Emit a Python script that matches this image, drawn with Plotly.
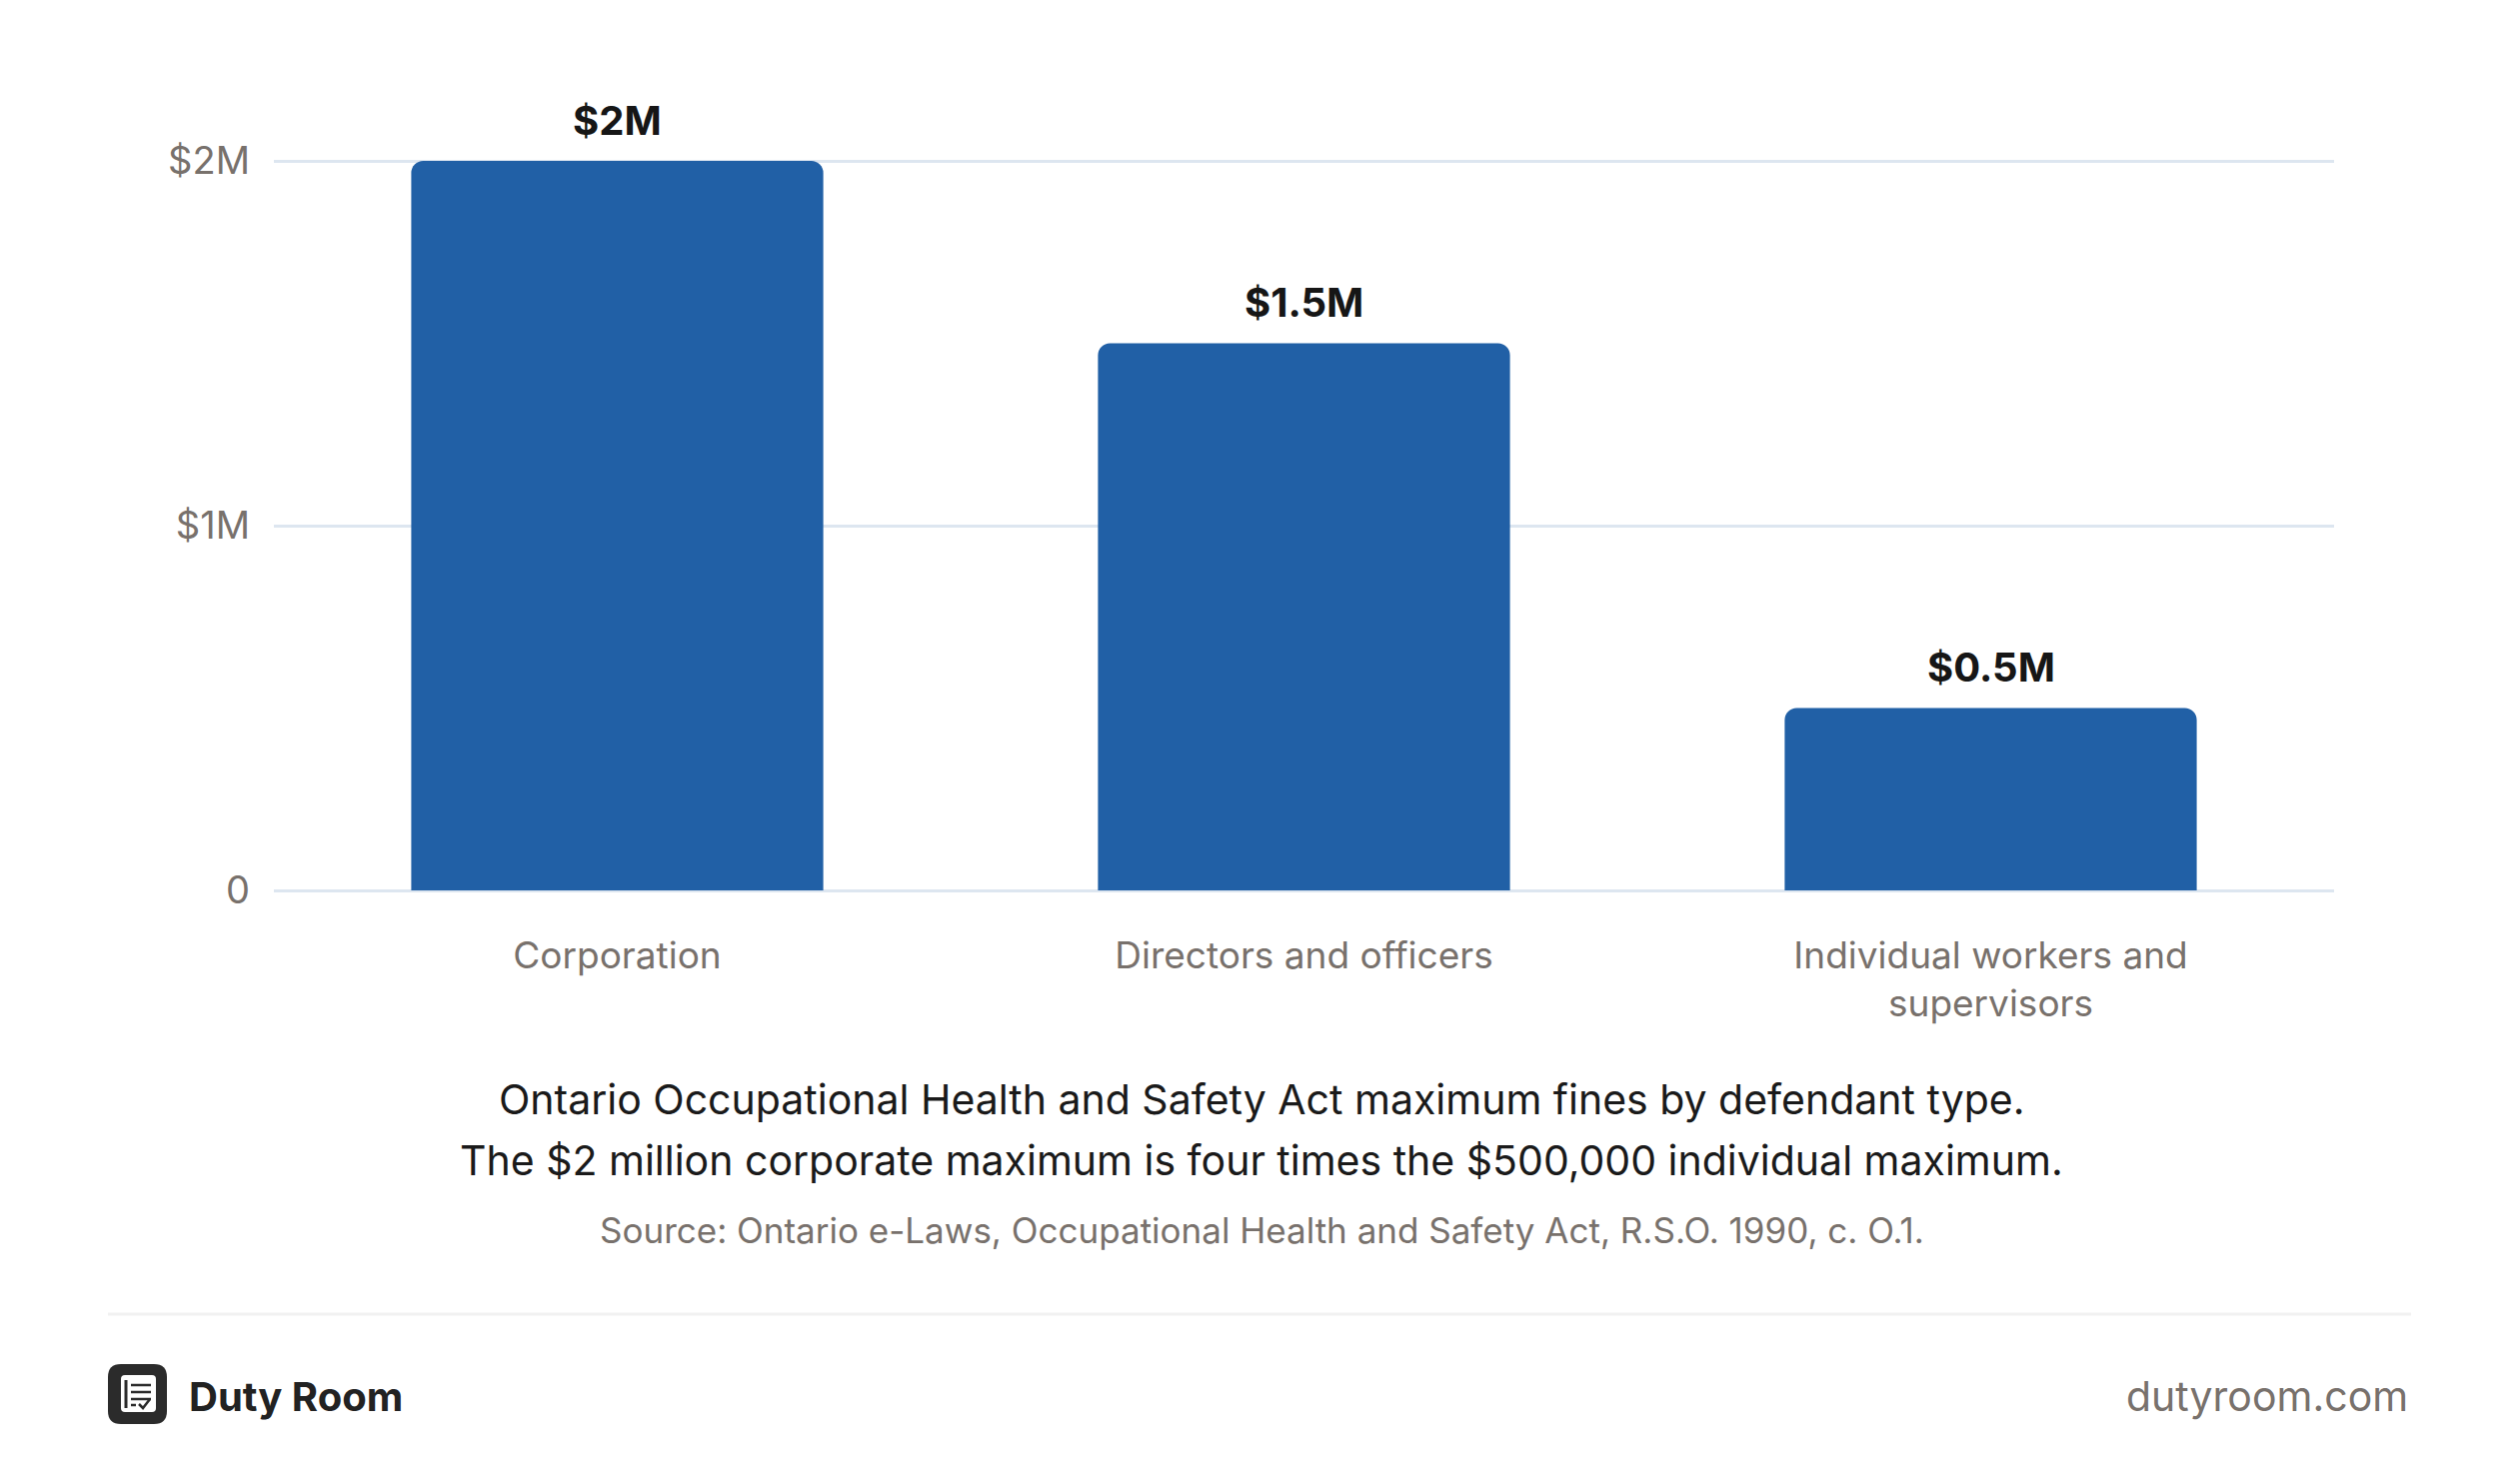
import plotly.graph_objects as go

# Chart data
categories = ["Corporation", "Directors and officers", "Individual workers and<br>supervisors"]
max_fines = [2_000_000, 1_500_000, 500_000]
bar_labels = ["$2M", "$1.5M", "$0.5M"]
y_tick_vals = [0, 1_000_000, 2_000_000]
y_tick_text = ["0", "$1M", "$2M"]

caption_lines = [
    "Ontario Occupational Health and Safety Act maximum fines by defendant type.",
    "The $2 million corporate maximum is four times the $500,000 individual maximum.",
]
source_text = "Source: Ontario e-Laws, Occupational Health and Safety Act, R.S.O. 1990, c. O.1."

# page is offset by the 8px body margin of the html file
BODY = 8
W, H = 2520 - 2 * BODY, 1485 - 2 * BODY
X0, X1 = 274, 2335   # plot area left / right (page pixels)
Y0, YT = 891, 157    # plot bottom / top (page pixels)
Y_TOP = 2_000_000 * (Y0 - YT) / (Y0 - 161)  # so $2M sits at y=161 and its gridline shows

FONT = "Inter, 'Noto Sans', sans-serif"
BAR_COLOR = "#2160A6"
GREY = "#78716c"
GRID = "#dde6f0"


def px(x):
    return (x - X0) / (X1 - X0)


def py(y):
    return (Y0 - y) / (Y0 - YT)


def rounded_rect(x0, y0, x1, y1, r):
    # pixel box -> paper path with rounded corners
    pts = [
        f"M {px(x0 + r)} {py(y0)}",
        f"L {px(x1 - r)} {py(y0)}",
        f"Q {px(x1)} {py(y0)} {px(x1)} {py(y0 + r)}",
        f"L {px(x1)} {py(y1 - r)}",
        f"Q {px(x1)} {py(y1)} {px(x1 - r)} {py(y1)}",
        f"L {px(x0 + r)} {py(y1)}",
        f"Q {px(x0)} {py(y1)} {px(x0)} {py(y1 - r)}",
        f"L {px(x0)} {py(y0 + r)}",
        f"Q {px(x0)} {py(y0)} {px(x0 + r)} {py(y0)}",
        "Z",
    ]
    return " ".join(pts)


fig = go.Figure()

fig.add_trace(
    go.Bar(
        x=categories, y=max_fines,
        marker=dict(color=BAR_COLOR, line=dict(width=0)),
        width=0.6,
        hoverinfo="skip",
    )
)

fig.update_xaxes(
    showgrid=False, showline=False, zeroline=False, ticks="",
    tickfont=dict(family=FONT, size=37, color=GREY),
    ticklabelstandoff=40,
    range=[-0.5, 2.5],
)

fig.update_yaxes(
    range=[0, Y_TOP],
    tickvals=y_tick_vals, ticktext=y_tick_text,
    tickfont=dict(family=FONT, size=38, color=GREY),
    showgrid=True, gridcolor=GRID, gridwidth=3,
    zeroline=True, zerolinecolor=GRID, zerolinewidth=3,
    showline=False, ticks="",
    ticklabelstandoff=23,
)

# value labels above the bars
ann_objs = [
    dict(
        text=f"<b>{lab}</b>", x=cat, y=val, xref="x", yref="y",
        xanchor="center", yanchor="middle", yshift=41, showarrow=False,
        font=dict(family=FONT, size=40, color="#161616"),
    )
    for cat, val, lab in zip(categories, max_fines, bar_labels)
]

captions = [
    dict(text=caption_lines[0], y=1100, size=41, color="#1a1a1a"),
    dict(text=caption_lines[1], y=1161, size=41, color="#1a1a1a"),
    dict(text=source_text, y=1231, size=35, color=GREY),
]
for c in captions:
    ann_objs.append(dict(
        text=c["text"], x=px(1262), y=py(c["y"]), xref="paper", yref="paper",
        xanchor="center", yanchor="middle", showarrow=False,
        font=dict(family=FONT, size=c["size"], color=c["color"]),
    ))

# footer text
ann_objs.append(dict(
    text="<b>Duty Room</b>", x=px(187), y=py(1397), xref="paper", yref="paper",
    xanchor="left", yanchor="middle", showarrow=False,
    font=dict(family=FONT, size=40, color="#222222"),
))
ann_objs.append(dict(
    text="dutyroom.com", x=px(2411), y=py(1397), xref="paper", yref="paper",
    xanchor="right", yanchor="middle", showarrow=False,
    font=dict(family=FONT, size=41, color=GREY),
))

# separator + logo
shapes = [
    dict(type="line", xref="paper", yref="paper",
         x0=px(108), x1=px(2412), y0=py(1315), y1=py(1315),
         line=dict(color="#f1f1f1", width=3)),
    dict(type="path", xref="paper", yref="paper",
         path=rounded_rect(108, 1365, 167, 1425, 13),
         fillcolor="#2b2b2b", line=dict(width=0)),
    dict(type="path", xref="paper", yref="paper",
         path=rounded_rect(121, 1376, 156, 1413, 4),
         fillcolor="white", line=dict(width=0)),
]
# document icon lines
icon = "#2b2b2b"
shapes.append(dict(type="line", xref="paper", yref="paper",
                   x0=px(126), x1=px(126), y0=py(1381), y1=py(1409),
                   line=dict(color=icon, width=3)))
for yy in [1386, 1393, 1400]:
    shapes.append(dict(type="line", xref="paper", yref="paper",
                       x0=px(131), x1=px(151), y0=py(yy), y1=py(yy),
                       line=dict(color=icon, width=2.5)))
shapes.append(dict(type="line", xref="paper", yref="paper",
                   x0=px(131), x1=px(136), y0=py(1406), y1=py(1406),
                   line=dict(color=icon, width=2.5)))
shapes.append(dict(type="path", xref="paper", yref="paper",
                   path=f"M {px(139)} {py(1405)} L {px(143)} {py(1409)} L {px(150)} {py(1400)}",
                   line=dict(color=icon, width=2.5)))

fig.update_layout(
    width=W, height=H, autosize=False,
    margin=dict(l=X0 - BODY, r=W - (X1 - BODY), t=YT - BODY, b=H - (Y0 - BODY)),
    paper_bgcolor="white", plot_bgcolor="white",
    showlegend=False,
    barcornerradius=12,
    font=dict(family=FONT),
    annotations=ann_objs,
    shapes=shapes,
)

fig.write_html("out.html")
